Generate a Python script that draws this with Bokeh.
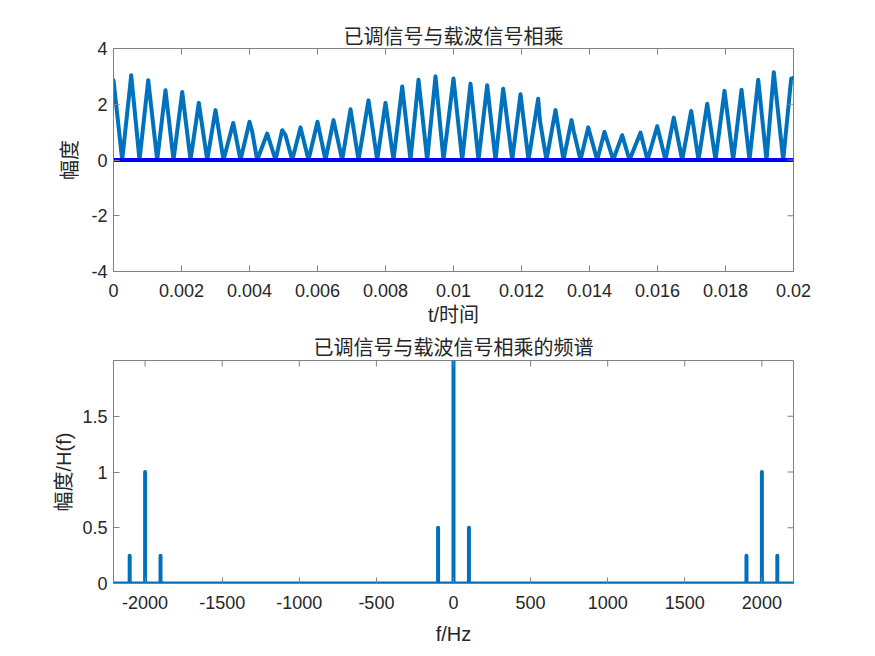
import math
from bokeh.plotting import figure
from bokeh.models import Range1d, FixedTicker
from bokeh.layouts import column
from bokeh.embed import file_html
from bokeh.resources import INLINE

# ---------------- data ----------------
# top panel: product signal, peaks/troughs (time in ms, amplitude)
sig_t_ms = [0.000, 0.256, 0.521, 0.765, 1.021, 1.285, 1.529, 1.765, 2.021, 2.265,
            2.509, 2.756, 3.000, 3.235, 3.521, 3.735, 4.000, 4.080, 4.226, 4.521,
            4.765, 4.962, 5.060, 5.256, 5.500, 5.735, 6.000, 6.235, 6.471, 6.726,
            6.971, 7.206, 7.500, 7.756, 8.000, 8.235, 8.491, 8.735, 8.971, 9.226,
            9.471, 9.706, 10.000, 10.256, 10.500, 10.735, 10.991, 11.235, 11.462, 11.726,
            11.971, 12.206, 12.491, 12.540, 12.735, 13.000, 13.235, 13.471, 13.540, 13.735,
            13.962, 14.226, 14.441, 14.697, 14.962, 15.176, 15.500, 15.706, 15.991, 16.235,
            16.479, 16.726, 16.991, 17.206, 17.462, 17.706, 17.971, 18.226, 18.471, 18.706,
            18.962, 19.206, 19.421, 19.697, 19.932, 20.000]
sig_val = [2.86, 0.00, 3.04, 0.00, 2.86, 0.00, 2.50, 0.00, 2.44, 0.00,
           2.05, 0.00, 1.79, 0.00, 1.33, 0.00, 1.37, 1.01, 0.00, 0.95,
           0.00, 1.07, 0.89, 0.00, 1.17, 0.00, 1.37, 0.00, 1.43, 0.00,
           1.82, 0.00, 2.14, 0.00, 2.05, 0.00, 2.64, 0.00, 2.88, 0.00,
           3.00, 0.00, 2.92, 0.00, 2.74, 0.00, 2.68, 0.00, 2.56, 0.00,
           2.36, 0.00, 2.20, 1.43, 0.00, 1.79, 0.00, 1.43, 1.01, 0.00,
           1.17, 0.00, 1.01, 0.00, 0.89, 0.00, 0.98, 0.00, 1.21, 0.00,
           1.52, 0.00, 1.76, 0.00, 2.02, 0.00, 2.48, 0.00, 2.52, 0.00,
           2.88, 0.00, 3.15, 0.00, 2.92, 2.95]
t_range = [0.0, 0.02]
zero_level = [0.0, 0.0]
t_ticks = [0.0, 0.002, 0.004, 0.006, 0.008, 0.01, 0.012, 0.014, 0.016, 0.018, 0.02]
t_tick_labels = ["0", "0.002", "0.004", "0.006", "0.008", "0.01", "0.012",
                 "0.014", "0.016", "0.018", "0.02"]
amp_ticks = [-4, -2, 0, 2, 4]
amp_tick_labels = ["-4", "-2", "0", "2", "4"]

# bottom panel: spectrum spikes
spec_f = [-2100, -2000, -1900, -100, 0, 100, 1900, 2000, 2100]
spec_mag = [0.25, 1.0, 0.25, 0.5, 2.0, 0.5, 0.25, 1.0, 0.25]
f_range = [-2205, 2205]
f_ticks = [-2000, -1500, -1000, -500, 0, 500, 1000, 1500, 2000]
f_tick_labels = ["-2000", "-1500", "-1000", "-500", "0", "500", "1000", "1500", "2000"]
mag_ticks = [0, 0.5, 1, 1.5]
mag_tick_labels = ["0", "0.5", "1", "1.5"]
mag_top = 2.0

# ---------------- styling ----------------
FONT = "Liberation Sans, Noto Sans CJK SC"
TXT = "#262626"
FRAME = "#808080"
LINE = "#0072BD"


def style_axis(ax):
    ax.axis_line_color = FRAME
    ax.major_tick_line_color = FRAME
    ax.major_tick_in = 6
    ax.major_tick_out = 0
    ax.minor_tick_line_color = None
    ax.major_label_text_font = FONT
    ax.major_label_text_color = TXT
    ax.major_label_text_font_size = "18px"
    ax.axis_label_text_font = FONT
    ax.axis_label_text_font_size = "20px"
    ax.axis_label_text_font_style = "normal"
    ax.axis_label_text_color = TXT


def make_fig(xr, yr, title, top, bottom, standoff):
    p = figure(frame_width=680, frame_height=223, output_backend="svg",
               toolbar_location=None, x_range=Range1d(*xr), y_range=Range1d(*yr),
               min_border_left=113, min_border_right=74,
               min_border_top=top, min_border_bottom=bottom)
    p.grid.visible = False
    p.outline_line_color = FRAME
    p.background_fill_color = "white"
    p.border_fill_color = "white"
    p.title.text = title
    p.title.align = "center"
    p.title.text_font = FONT
    p.title.text_font_size = "20px"
    p.title.text_font_style = "normal"
    p.title.text_color = TXT
    p.title.standoff = standoff
    return p


def box_ticks(p, xticks, yticks, xr, yr):
    # inward tick marks on the top and right edges (MATLAB "box on")
    p.scatter(xticks, [yr[1]] * len(xticks), marker="dash", size=12,
              angle=math.pi / 2, line_color=FRAME, line_width=1)
    p.scatter([xr[1]] * len(yticks), yticks, marker="dash", size=12,
              line_color=FRAME, line_width=1)


# ---------------- top panel ----------------
amp_range = (amp_ticks[0], amp_ticks[-1])
p1 = make_fig(t_range, amp_range, "已调信号与载波信号相乘", 48, 61, 2)
p1.line([t / 1000.0 for t in sig_t_ms], sig_val, line_color=LINE, line_width=4,
        line_join="round", line_cap="round")
p1.line(t_range, zero_level, line_color="#0000FF", line_width=4)
box_ticks(p1, t_ticks, amp_ticks, t_range, amp_range)

p1.xaxis.ticker = FixedTicker(ticks=t_ticks)
p1.xaxis.major_label_overrides = {v: s for v, s in zip(t_ticks, t_tick_labels)}
p1.yaxis.ticker = FixedTicker(ticks=amp_ticks)
p1.yaxis.major_label_overrides = {v: s for v, s in zip(amp_ticks, amp_tick_labels)}
p1.xaxis.axis_label = "t/时间"
p1.yaxis.axis_label = "幅度"
for ax in p1.xaxis + p1.yaxis:
    style_axis(ax)
p1.xaxis.major_label_standoff = 12
p1.xaxis.axis_label_standoff = 4
p1.yaxis.major_label_standoff = 6
p1.yaxis.axis_label_standoff = 7

# ---------------- bottom panel ----------------
xs = [f_range[0]]
ys = [0.0]
for f, m in zip(spec_f, spec_mag):
    xs += [f, f, f]
    ys += [0.0, m, 0.0]
xs.append(f_range[1])
ys.append(0.0)

mag_range = (0, mag_top)
p2 = make_fig(f_range, mag_range, "已调信号与载波信号相乘的频谱", 27, 66, 4)
p2.line(xs, ys, line_color=LINE, line_width=4, line_join="round", line_cap="round")
box_ticks(p2, f_ticks, mag_ticks, f_range, mag_range)
p2.xaxis.ticker = FixedTicker(ticks=f_ticks)
p2.xaxis.major_label_overrides = {v: s for v, s in zip(f_ticks, f_tick_labels)}
p2.yaxis.ticker = FixedTicker(ticks=mag_ticks)
p2.yaxis.major_label_overrides = {v: s for v, s in zip(mag_ticks, mag_tick_labels)}
p2.xaxis.axis_label = "f/Hz"
p2.yaxis.axis_label = "幅度/H(f)"
for ax in p2.xaxis + p2.yaxis:
    style_axis(ax)
p2.xaxis.major_label_standoff = 12
p2.xaxis.axis_label_standoff = 11
p2.yaxis.major_label_standoff = 6
p2.yaxis.axis_label_standoff = 4

layout = column(p1, p2, spacing=0)
open("out.html", "w").write(file_html(layout, INLINE))
